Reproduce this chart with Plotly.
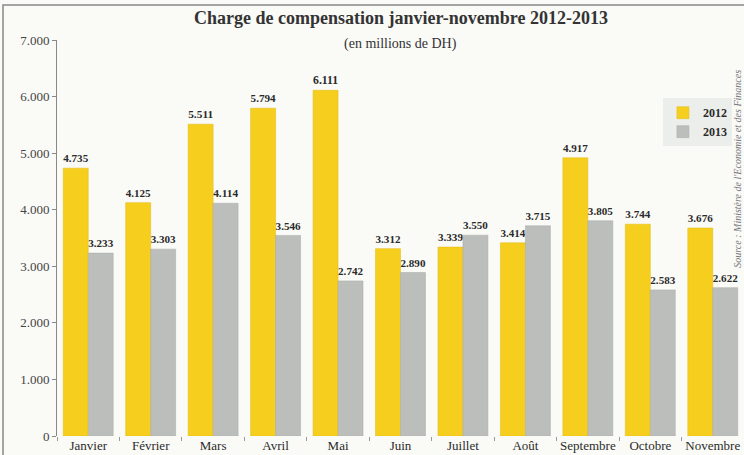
import plotly.graph_objects as go

months = ["Janvier", "Février", "Mars", "Avril", "Mai", "Juin", "Juillet",
          "Août", "Septembre", "Octobre", "Novembre"]
v2012 = [4735, 4125, 5511, 5794, 6111, 3312, 3339, 3414, 4917, 3744, 3676]
v2013 = [3233, 3303, 4114, 3546, 2742, 2890, 3550, 3715, 3805, 2583, 2622]
ytick_vals = [0, 1000, 2000, 3000, 4000, 5000, 6000, 7000]


def fmt(v):
    return "<b>" + f"{v:,}".replace(",", ".") + "</b>"


serif = "Liberation Serif"
txt = "#2a2a2a"

fig = go.Figure()
fig.add_trace(go.Bar(
    x=months, y=v2012, name="<b>2012</b>",
    marker=dict(color="#F6CF1E", line=dict(color="#E0B810", width=0.5)),
    text=[fmt(v) for v in v2012], textposition="outside",
    textfont=dict(family=serif, size=12, color=txt), cliponaxis=False,
))
fig.add_trace(go.Bar(
    x=months, y=v2013, name="<b>2013</b>",
    marker=dict(color="#BCBEBC", line=dict(color="#A8AAA8", width=0.5)),
    text=[fmt(v) for v in v2013], textposition="outside",
    textfont=dict(family=serif, size=12, color=txt), cliponaxis=False,
))

fig.update_layout(
    width=744, height=455,
    margin=dict(l=57, r=0, t=40, b=19, autoexpand=False),
    paper_bgcolor="#FAFAF7", plot_bgcolor="#FAFAF7",
    separators=",.",
    barmode="group", bargap=0.2, bargroupgap=0,
    font=dict(family=serif, color=txt),
    showlegend=True,
    legend=dict(x=0.882, y=0.853, xanchor="left", yanchor="top",
                bgcolor="#ECEEEC", borderwidth=0,
                font=dict(family=serif, size=12, color=txt),
                itemwidth=30, tracegroupgap=4),
    xaxis=dict(showgrid=False, ticks="outside", tickson="boundaries",
               ticklen=4, tickcolor="#999", showline=False, tickangle=0,
               automargin=False,
               tickfont=dict(family=serif, size=13, color=txt)),
    yaxis=dict(range=[0, 7000], tickvals=ytick_vals, tickformat=",d",
               showgrid=False, showline=True, linecolor="#888", linewidth=1,
               ticks="outside", ticklen=4, tickcolor="#888", zeroline=False,
               automargin=False,
               tickfont=dict(family=serif, size=13, color="#444")),
    annotations=[
        dict(text="<b>Charge de compensation janvier-novembre 2012-2013</b>",
             xref="paper", yref="paper", x=0.5, y=1, yshift=22,
             xanchor="center", yanchor="middle", showarrow=False,
             font=dict(family=serif, size=18, color="#333")),
        dict(text="(en millions de DH)",
             xref="paper", yref="paper", x=0.5, y=1, yshift=-4,
             xanchor="center", yanchor="middle", showarrow=False,
             font=dict(family=serif, size=14, color="#333")),
        dict(text="<i>Source : Ministère de l'Economie et des Finances</i>",
             xref="paper", yref="paper", x=1, xshift=-6, y=0.42,
             xanchor="center", yanchor="bottom", textangle=-90,
             showarrow=False,
             font=dict(family=serif, size=10, color="#777")),
    ],
    shapes=[
        dict(type="rect", xref="paper", yref="paper",
             x0=-54 / 687, x1=1.05, y0=-0.1, y1=1 + 35 / 396,
             line=dict(color="#888", width=1.5), fillcolor="rgba(0,0,0,0)"),
    ],
)

fig.write_html("out.html", config={"displayModeBar": False},
               post_script="document.body.style.margin='0';")
